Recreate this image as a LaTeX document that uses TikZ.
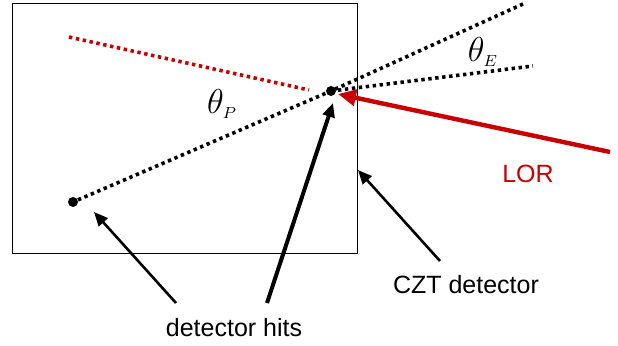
\documentclass[tikz,border=0pt]{standalone}
\usepackage{fontspec}
\setmainfont{Liberation Sans}
\usetikzlibrary{arrows.meta}
\definecolor{lorred}{RGB}{200,0,0}
\begin{document}
\begin{tikzpicture}[x=0.5pt,y=-0.5pt,
  dotline/.style={line width=1.8pt,dash pattern=on 1.7pt off 1.8pt},
  hit/.style={circle,fill=black,inner sep=0pt,minimum size=5pt},
  lbl/.style={font=\fontsize{12.5}{15}\selectfont,inner sep=0pt},
  thlbl/.style={font=\fontsize{16}{18}\selectfont,inner sep=0pt},
  pointer/.style={line width=1.3pt,-{Triangle[length=7pt,width=6pt]}}]
\useasboundingbox (0,0) rectangle (618,346);
\node[draw,line width=0.75pt,minimum width=172.5pt,minimum height=125pt,inner sep=0pt,anchor=north west] (det) at (12,3) {};
\node[hit] (h1) at (73,202) {};
\node[hit] (h2) at (331,91) {};
\coordinate (e1) at (523,4);
\coordinate (e2) at (533,66);
\coordinate (r1) at (69,37);
\coordinate (r2) at (309,90);
\draw[dotline,lorred] (r1) -- (r2);
\draw[dotline] (h1) -- (h2.center) -- (e1);
\draw[dotline] (h2.center) -- (e2);
\coordinate (lorstart) at (610,152);
\coordinate (lortip) at (338,94);
\draw[lorred,line width=2.2pt,-{Triangle[length=9pt,width=8pt]}] (lorstart) -- (lortip);
\node[thlbl] (thP) at (222,104) {$\theta_{\scriptscriptstyle P}$};
\node[thlbl] (thE) at (483,52) {$\theta_{\scriptscriptstyle E}$};
\node[lbl,text=lorred] (lor) at (528,174) {LOR};
\node[lbl] (czt) at (466,285) {CZT detector};
\node[lbl] (hits) at (234,328) {detector hits};
\coordinate (a1) at (176,303);
\coordinate (t1) at (94,212);
\coordinate (a2) at (267,303);
\coordinate (t2) at (333,103);
\coordinate (a3) at (440,261);
\coordinate (t3) at (358,170);
\draw[pointer] (a1) -- (t1);
\draw[pointer,line width=2pt] (a2) -- (t2);
\draw[pointer] (a3) -- (t3);
\end{tikzpicture}
\end{document}
